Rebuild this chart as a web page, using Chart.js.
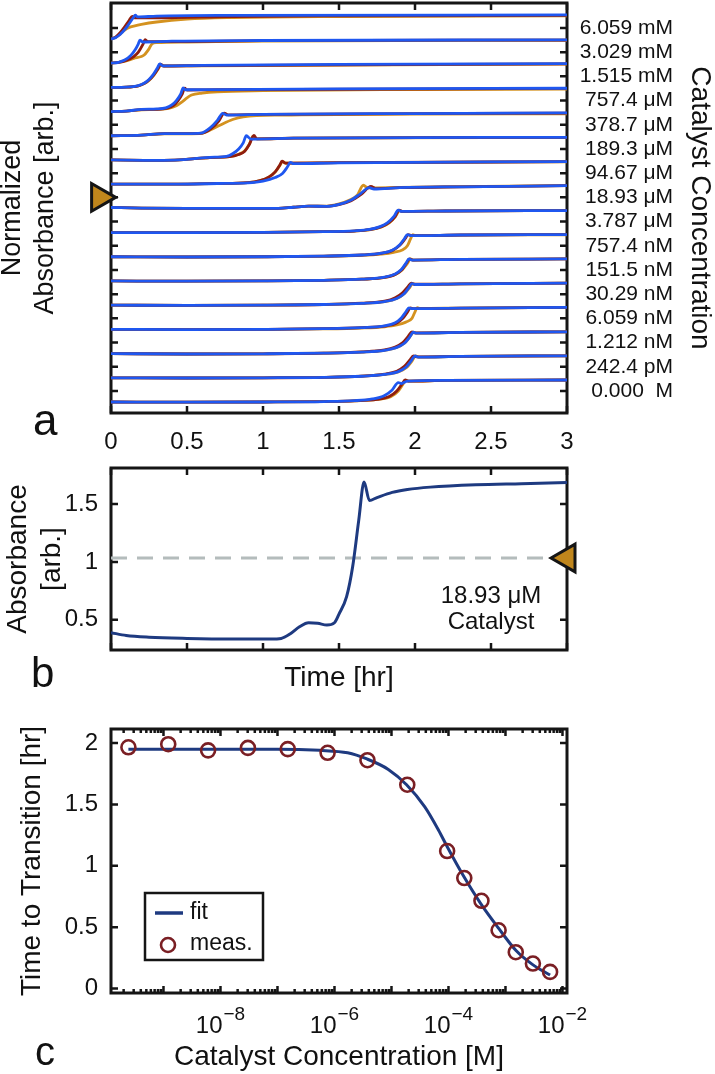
<!DOCTYPE html>
<html>
<head>
<meta charset="utf-8">
<title>Catalyst concentration study</title>
<script src="https://cdn.jsdelivr.net/npm/chart.js@4.4.1/dist/chart.umd.min.js"></script>
<style>
  html, body { margin:0; padding:0; background:#ffffff; }
  body { position:relative; width:715px; height:1074px; overflow:hidden; font-family:"Liberation Sans", Arial, sans-serif; color:#111; }
  canvas { position:absolute; left:0; display:block; }
  .txt { position:absolute; line-height:1; white-space:nowrap; color:#111; }
</style>
</head>
<body>
<canvas id="chartA" width="715" height="455" style="top:0px"></canvas>
<canvas id="chartB" width="715" height="250" style="top:455px"></canvas>
<canvas id="chartC" width="715" height="369" style="top:705px"></canvas>
<div class="txt" style="left:33px;top:398px;font-size:44px">a</div>
<div class="txt" style="left:31px;top:652px;font-size:42px">b</div>
<div class="txt" style="left:35px;top:1031px;font-size:40px">c</div>
<div class="txt" style="left:391px;top:582px;width:200px;text-align:center;font-size:24px;line-height:26px;">18.93 μM<br>Catalyst</div>
<script>
// ---------------- panel a data ----------------
const timeTicks = [0, 0.5, 1, 1.5, 2, 2.5, 3];
const concLabels = ['6.059 mM','3.029 mM','1.515 mM','757.4 μM','378.7 μM','189.3 μM','94.67 μM','18.93 μM',
                    '3.787 μM','757.4 nM','151.5 nM','30.29 nM','6.059 nM','1.212 nM','242.4 pM','0.000  M'];
const markedConc = '18.93 μM';
// normalized absorbance traces [time hr, normalized], listed top to bottom
const blueTraces = [
  [[0,0],[0.03,0.06],[0.06,0.2],[0.09,0.42],[0.12,0.7],[0.145,0.95],[0.16,1.08],[0.175,1.0],[0.3,1.04],[0.8,1.07],[3,1.09]],
  [[0,0],[0.05,0.04],[0.09,0.14],[0.13,0.35],[0.16,0.62],[0.18,0.88],[0.19,1.04],[0.21,0.96],[0.4,1.0],[1,1.03],[3,1.06]],
  [[0,0],[0.1,0.01],[0.18,0.08],[0.22,0.2],[0.25,0.36],[0.28,0.6],[0.305,0.88],[0.32,1.07],[0.34,0.98],[0.6,1.0],[1.5,1.04],[3,1.08]],
  [[0,0],[0.1,0.02],[0.2,0.1],[0.3,0.12],[0.36,0.17],[0.4,0.3],[0.43,0.5],[0.46,0.82],[0.475,1.08],[0.49,0.99],[0.7,1.0],[1.5,1.03],[3,1.06]],
  [[0,0],[0.2,0.03],[0.35,0.1],[0.5,0.1],[0.59,0.12],[0.65,0.35],[0.7,0.7],[0.735,1.02],[0.76,0.94],[1,0.97],[2,1.01],[3,1.04]],
  [[0,0],[0.3,-0.02],[0.45,0],[0.55,0.06],[0.65,0.12],[0.76,0.16],[0.8,0.28],[0.84,0.5],[0.87,0.78],[0.89,1.1],[0.92,0.95],[1.2,0.99],[3,1.03]],
  [[0,0],[0.4,0],[0.7,0.03],[0.9,0.06],[1.0,0.14],[1.08,0.3],[1.13,0.5],[1.16,0.78],[1.18,0.99],[1.2,0.93],[1.5,0.97],[3,1.02]],
  [[0,0.04],[0.2,0.01],[0.5,0],[1.1,0],[1.2,0.05],[1.3,0.1],[1.42,0.09],[1.5,0.18],[1.58,0.38],[1.64,0.66],[1.7,0.94],[1.73,0.88],[1.9,0.94],[2.3,0.98],[3,1.03]],
  [[0,0],[0.5,0],[1,0.01],[1.4,0.04],[1.6,0.08],[1.7,0.14],[1.77,0.27],[1.82,0.45],[1.86,0.72],[1.89,1.02],[1.91,0.96],[2.2,0.98],[3,1]],
  [[0,0],[0.5,-0.01],[1,0],[1.4,0.03],[1.65,0.08],[1.78,0.16],[1.85,0.3],[1.9,0.55],[1.93,0.82],[1.95,1.01],[1.97,0.96],[2.3,0.99],[3,1.01]],
  [[0,0],[0.5,-0.01],[1,0],[1.4,0.03],[1.65,0.08],[1.8,0.17],[1.87,0.32],[1.91,0.52],[1.94,0.8],[1.96,1.0],[1.98,0.95],[2.3,0.98],[3,1]],
  [[0,0],[0.5,-0.01],[1,0],[1.4,0.03],[1.65,0.08],[1.8,0.16],[1.88,0.3],[1.93,0.53],[1.96,0.8],[1.98,0.98],[2.0,0.94],[2.3,0.97],[3,1]],
  [[0,0],[0.5,-0.01],[1,0],[1.4,0.03],[1.65,0.08],[1.8,0.16],[1.87,0.3],[1.91,0.52],[1.94,0.8],[1.96,0.98],[1.98,0.94],[2.3,0.97],[3,1]],
  [[0,0],[0.5,-0.02],[1,-0.01],[1.4,0.02],[1.65,0.07],[1.8,0.15],[1.88,0.28],[1.93,0.47],[1.965,0.75],[1.99,0.97],[2.01,0.93],[2.3,0.96],[3,0.99]],
  [[0,0],[0.5,-0.01],[1,0],[1.4,0.02],[1.65,0.07],[1.8,0.15],[1.89,0.28],[1.94,0.48],[1.975,0.77],[2.0,0.99],[2.02,0.94],[2.3,0.97],[3,1]],
  [[0,0],[0.5,-0.01],[1,0],[1.4,0.02],[1.6,0.06],[1.72,0.14],[1.8,0.3],[1.85,0.55],[1.89,0.88],[1.91,0.84],[1.95,0.95],[2.2,0.98],[3,1]]
];
const redTraces = [
  [[0,0],[0.03,0.08],[0.06,0.28],[0.09,0.55],[0.12,0.85],[0.14,1.02],[0.155,0.96],[0.3,0.96],[0.8,1.02],[1.5,1.05],[3,1.07]],
  [[0,0],[0.05,0.03],[0.1,0.12],[0.15,0.3],[0.18,0.5],[0.21,0.85],[0.225,1.07],[0.24,0.98],[0.4,0.98],[1,1.02],[3,1.05]],
  [[0,0],[0.1,0.01],[0.18,0.07],[0.22,0.18],[0.25,0.33],[0.28,0.56],[0.31,0.86],[0.325,1.05],[0.345,0.97],[0.6,0.99],[3,1.07]],
  [[0,0],[0.1,0.02],[0.2,0.09],[0.3,0.1],[0.37,0.15],[0.41,0.27],[0.44,0.48],[0.47,0.82],[0.485,1.06],[0.5,0.98],[0.7,0.99],[3,1.05]],
  [[0,0],[0.2,0.03],[0.35,0.1],[0.5,0.1],[0.6,0.12],[0.66,0.33],[0.71,0.68],[0.745,1.03],[0.77,0.95],[1,0.97],[3,1.03]],
  [[0,0],[0.3,-0.02],[0.45,0],[0.55,0.06],[0.65,0.11],[0.78,0.15],[0.84,0.25],[0.88,0.4],[0.91,0.7],[0.94,1.12],[0.96,0.96],[1.2,0.99],[3,1.03]],
  [[0,0],[0.4,0],[0.7,0.03],[0.9,0.07],[0.98,0.16],[1.04,0.33],[1.08,0.56],[1.11,0.86],[1.125,1.05],[1.145,0.96],[1.5,0.98],[3,1.02]],
  [[0,0.04],[0.2,0.01],[0.5,0],[1.1,0],[1.2,0.05],[1.3,0.1],[1.42,0.09],[1.5,0.17],[1.58,0.35],[1.65,0.66],[1.71,1.0],[1.74,0.9],[1.9,0.94],[2.3,0.98],[3,1.03]],
  [[0,0],[0.5,0],[1,0.01],[1.4,0.04],[1.6,0.07],[1.7,0.13],[1.78,0.27],[1.83,0.46],[1.87,0.74],[1.895,1.02],[1.915,0.96],[2.2,0.98],[3,1]],
  [[0,0],[0.5,-0.01],[1,0],[1.4,0.03],[1.65,0.08],[1.78,0.16],[1.85,0.28],[1.9,0.52],[1.935,0.82],[1.955,1.01],[1.975,0.96],[2.3,0.99],[3,1.01]],
  [[0,0],[0.5,-0.01],[1,0],[1.4,0.03],[1.65,0.08],[1.8,0.16],[1.87,0.3],[1.915,0.52],[1.945,0.82],[1.965,1.0],[1.985,0.95],[2.3,0.98],[3,1]],
  [[0,0],[0.5,-0.01],[1,0],[1.4,0.03],[1.65,0.09],[1.8,0.18],[1.87,0.34],[1.92,0.58],[1.955,0.85],[1.975,1.0],[1.995,0.95],[2.3,0.97],[3,1]],
  [[0,0],[0.5,-0.01],[1,0],[1.4,0.03],[1.65,0.08],[1.8,0.15],[1.88,0.29],[1.92,0.5],[1.95,0.78],[1.97,0.98],[1.99,0.94],[2.3,0.97],[3,1]],
  [[0,0],[0.5,-0.02],[1,-0.01],[1.4,0.02],[1.65,0.08],[1.8,0.17],[1.87,0.3],[1.92,0.5],[1.955,0.78],[1.98,0.98],[2.0,0.94],[2.3,0.96],[3,0.99]],
  [[0,0],[0.5,-0.01],[1,0],[1.4,0.02],[1.65,0.08],[1.8,0.17],[1.88,0.3],[1.93,0.52],[1.965,0.8],[1.99,1.0],[2.01,0.95],[2.3,0.97],[3,1]],
  [[0,0],[0.5,-0.01],[1,0],[1.4,0.02],[1.6,0.05],[1.75,0.12],[1.83,0.25],[1.88,0.5],[1.915,0.82],[1.935,1.0],[1.955,0.95],[2.2,0.98],[3,1]]
];
const orangeTraces = [
  [[0,0],[0.03,0.07],[0.06,0.22],[0.09,0.4],[0.12,0.52],[0.15,0.58],[0.2,0.66],[0.3,0.77],[0.5,0.9],[0.8,0.97],[1.5,1.02],[3,1.05]],
  [[0,0],[0.05,0.03],[0.1,0.1],[0.15,0.22],[0.2,0.3],[0.22,0.38],[0.25,0.65],[0.27,0.88],[0.3,0.93],[0.5,0.96],[1,1.0],[3,1.04]],
  [[0,0],[0.1,0.01],[0.18,0.07],[0.22,0.17],[0.25,0.31],[0.28,0.53],[0.31,0.84],[0.33,1.03],[0.35,0.97],[0.6,0.98],[3,1.06]],
  [[0,0],[0.1,0.02],[0.2,0.08],[0.3,0.1],[0.38,0.14],[0.43,0.26],[0.47,0.45],[0.5,0.62],[0.53,0.75],[0.6,0.84],[0.7,0.9],[1,0.95],[2,1.0],[3,1.02]],
  [[0,0],[0.2,0.03],[0.35,0.09],[0.5,0.09],[0.6,0.11],[0.66,0.28],[0.72,0.49],[0.8,0.74],[0.87,0.86],[1.13,0.94],[2,0.98],[3,1.0]],
  [[0,0],[0.3,-0.02],[0.45,0],[0.55,0.06],[0.65,0.11],[0.78,0.15],[0.84,0.26],[0.88,0.42],[0.91,0.72],[0.935,1.08],[0.955,0.96],[1.2,0.99],[3,1.02]],
  [[0,0],[0.4,0],[0.7,0.03],[0.9,0.07],[0.98,0.16],[1.04,0.33],[1.08,0.55],[1.11,0.84],[1.13,1.02],[1.15,0.95],[1.5,0.98],[3,1.01]],
  [[0,0.04],[0.2,0.01],[0.5,0],[1.1,0],[1.2,0.05],[1.3,0.1],[1.42,0.1],[1.5,0.2],[1.57,0.38],[1.62,0.6],[1.66,1.05],[1.69,0.93],[1.9,0.95],[2.3,0.99],[3,1.03]],
  [[0,0],[0.5,0],[1,0.01],[1.4,0.04],[1.6,0.07],[1.7,0.12],[1.78,0.25],[1.83,0.44],[1.87,0.72],[1.9,1.0],[1.92,0.96],[2.2,0.98],[3,1]],
  [[0,0],[0.5,-0.01],[1,0],[1.4,0.02],[1.65,0.06],[1.78,0.12],[1.86,0.2],[1.92,0.32],[1.95,0.5],[1.97,0.8],[1.985,1.0],[2.0,0.97],[2.3,0.98],[3,1]],
  [[0,0],[0.5,-0.01],[1,0],[1.4,0.03],[1.65,0.08],[1.8,0.16],[1.87,0.29],[1.915,0.5],[1.95,0.8],[1.97,1.0],[1.99,0.95],[2.3,0.98],[3,1]],
  [[0,0],[0.5,-0.01],[1,0],[1.4,0.03],[1.65,0.08],[1.8,0.16],[1.88,0.3],[1.93,0.52],[1.965,0.8],[1.985,0.98],[2.005,0.94],[2.3,0.97],[3,1]],
  [[0,0],[0.5,-0.01],[1,0],[1.4,0.02],[1.65,0.06],[1.8,0.12],[1.88,0.2],[1.94,0.33],[1.98,0.5],[2.0,0.8],[2.015,0.99],[2.03,0.95],[2.3,0.97],[3,1]],
  [[0,0],[0.5,-0.02],[1,-0.01],[1.4,0.02],[1.65,0.07],[1.8,0.15],[1.88,0.28],[1.93,0.47],[1.965,0.75],[1.99,0.97],[2.01,0.93],[2.3,0.96],[3,0.99]],
  [[0,0],[0.5,-0.01],[1,0],[1.4,0.02],[1.65,0.07],[1.8,0.15],[1.89,0.27],[1.945,0.47],[1.98,0.76],[2.005,0.99],[2.025,0.94],[2.3,0.97],[3,1]],
  [[0,0],[0.5,-0.01],[1,0],[1.4,0.02],[1.6,0.05],[1.75,0.12],[1.84,0.24],[1.89,0.5],[1.92,0.8],[1.94,0.99],[1.96,0.95],[2.2,0.98],[3,1]]
];

// ---------------- panel b data ----------------
const bTime = [0,0.1,0.25,0.5,0.8,1.05,1.12,1.18,1.24,1.3,1.36,1.42,1.47,1.5,1.55,1.59,1.63,1.665,1.7,1.75,1.85,1.95,2.1,2.4,2.7,3.0];
const bAbs  = [0.39,0.365,0.35,0.34,0.335,0.335,0.34,0.38,0.44,0.475,0.47,0.455,0.475,0.55,0.70,0.96,1.36,1.69,1.53,1.555,1.6,1.625,1.645,1.665,1.675,1.685];
const bThreshold = 1.034;
const bTicks = [0.5, 1, 1.5];

// ---------------- panel c data ----------------
const measConc = [2.424e-10,1.212e-9,6.059e-9,3.029e-8,1.515e-7,7.574e-7,3.787e-6,1.893e-5,9.467e-5,1.893e-4,3.787e-4,7.574e-4,1.515e-3,3.029e-3,6.059e-3];
const measTime = [1.965,1.99,1.94,1.96,1.95,1.92,1.86,1.66,1.12,0.90,0.715,0.475,0.296,0.204,0.136];
const fitConc  = [2.424e-10,1e-8,1e-7,5.5e-7,1.7e-6,3.7e-6,8.8e-6,1.84e-5,3.84e-5,6.7e-5,9.5e-5,1.87e-4,3.7e-4,7.6e-4,1.53e-3,3.0e-3,6.06e-3];
const fitTime  = [1.95,1.95,1.95,1.94,1.92,1.87,1.785,1.66,1.48,1.29,1.155,0.91,0.69,0.49,0.31,0.195,0.11];
const cTicksY = [0, 0.5, 1, 1.5, 2];
const cLabelExps = [-8, -6, -4, -2];

// ---------------- styling ----------------
const FONT = "'Liberation Sans', Arial, Helvetica, sans-serif";
Chart.defaults.font.family = FONT;
Chart.defaults.color = '#111111';
Chart.defaults.animation = false;
const C_BLUE = '#1f57f0', C_RED = '#8f1d0e', C_ORANGE = '#d4921f';
const C_NAVY = '#1e3a80', C_MEAS = '#7a1f24', C_MARK = '#c0861c', C_AXIS = '#151515';
const BASE = -0.455, AMP = 0.909;

const boxPlugin = {
  id: 'box',
  beforeDatasetsDraw(chart, args, o) {
    const {ctx, chartArea: a, scales} = chart;
    const xs = scales.x, ys = scales.y;
    ctx.save();
    ctx.strokeStyle = C_AXIS;
    ctx.lineWidth = 2.5;
    ctx.beginPath();
    const xt = (v, len) => { const p = xs.getPixelForValue(v); ctx.moveTo(p, a.top); ctx.lineTo(p, a.top + len); ctx.moveTo(p, a.bottom); ctx.lineTo(p, a.bottom - len); };
    const yt = (v, len) => { const p = ys.getPixelForValue(v); ctx.moveTo(a.left, p); ctx.lineTo(a.left + len, p); ctx.moveTo(a.right, p); ctx.lineTo(a.right - len, p); };
    (o.xMajor || []).forEach(v => xt(v, 7));
    (o.xMinor || []).forEach(v => xt(v, 4));
    (o.yMajor || []).forEach(v => yt(v, 7));
    ctx.stroke();
    ctx.lineWidth = 3;
    ctx.strokeRect(a.left, a.top, a.right - a.left, a.bottom - a.top);
    ctx.restore();
  }
};

function lineDs(data, color, width, order, extra) {
  return Object.assign({ data, showLine: true, borderColor: color, backgroundColor: color, borderWidth: width,
    pointRadius: 0, pointHoverRadius: 0, cubicInterpolationMode: 'monotone', fill: false, order }, extra || {});
}

// ---------------- panel a ----------------
const nLevels = concLabels.length;
const levelOf = k => nLevels - 1 - k;
const toPts = (pts, k) => pts.map(([t, n]) => ({ x: t, y: levelOf(k) + BASE + AMP * n }));
const dsA = [];
orangeTraces.forEach((p, k) => dsA.push(lineDs(toPts(p, k), C_ORANGE, 2.8, 3)));
redTraces.forEach((p, k) => dsA.push(lineDs(toPts(p, k), C_RED, 2.8, 2)));
blueTraces.forEach((p, k) => dsA.push(lineDs(toPts(p, k), C_BLUE, 2.8, 1)));
dsA.push({ data: [{ x: -0.075, y: levelOf(concLabels.indexOf(markedConc)) }], showLine: false, pointStyle: 'triangle',
  rotation: 90, pointRadius: 16, pointHoverRadius: 16, pointBackgroundColor: C_MARK, pointBorderColor: C_AXIS,
  pointBorderWidth: 3, clip: false, order: 0 });

const mctx = document.createElement('canvas').getContext('2d');
mctx.font = "21px " + FONT;
const widestA = Math.max(...concLabels.map(s => mctx.measureText(s).width));
const levelTicks = concLabels.map((_, i) => i);

new Chart(document.getElementById('chartA'), {
  type: 'scatter',
  data: { datasets: dsA },
  plugins: [boxPlugin],
  options: {
    responsive: false, animation: false, events: [],
    layout: { autoPadding: false, padding: { left: 0, right: 42, top: 3, bottom: 0 } },
    plugins: { legend: { display: false }, tooltip: { enabled: false },
      box: { xMajor: timeTicks, yMajor: levelTicks } },
    scales: {
      x: { type: 'linear', min: 0, max: 3, position: 'bottom',
        grid: { display: false, drawTicks: false }, border: { display: false },
        ticks: { font: { size: 24 }, padding: 15, autoSkip: false, maxRotation: 0, minRotation: 0, callback: v => String(v) },
        afterBuildTicks: s => { s.ticks = timeTicks.map(v => ({ value: v })); },
        afterFit: s => { s.height = 42; s.paddingLeft = 0; s.paddingRight = 0; } },
      y: { type: 'linear', min: -0.91, max: 16.03, position: 'left',
        grid: { display: false, drawTicks: false }, border: { display: false },
        ticks: { display: false },
        title: { display: true, text: ['Normalized', 'Absorbance [arb.]'], font: { size: 27, lineHeight: '33px' }, padding: { top: -3.5, bottom: 0 } },
        afterFit: s => { s.width = 111; s.paddingTop = 0; s.paddingBottom = 0; } },
      y2: { type: 'linear', min: -0.91, max: 16.03, position: 'right',
        grid: { display: false, drawTicks: false }, border: { display: false },
        ticks: { font: { size: 21 }, padding: 106 - widestA, crossAlign: 'far', autoSkip: false,
          callback: v => concLabels[nLevels - 1 - v] || '' },
        afterBuildTicks: s => { s.ticks = levelTicks.map(v => ({ value: v })); },
        title: { display: true, text: 'Catalyst Concentration', font: { size: 28, lineHeight: 1 }, padding: { top: -41, bottom: 0 } },
        afterFit: s => { s.width = 106; s.paddingTop = 0; s.paddingBottom = 0; } }
    }
  }
});

// ---------------- panel b ----------------
new Chart(document.getElementById('chartB'), {
  type: 'scatter',
  data: { datasets: [
    { data: [{ x: 3, y: bThreshold }], showLine: false, pointStyle: 'triangle', rotation: 270, pointRadius: 16, pointHoverRadius: 16,
      pointBackgroundColor: C_MARK, pointBorderColor: C_AXIS, pointBorderWidth: 3, clip: false, order: 0 },
    lineDs(bTime.map((t, i) => ({ x: t, y: bAbs[i] })), C_NAVY, 3, 1),
    lineDs([{ x: 0, y: bThreshold }, { x: 3, y: bThreshold }], '#b4bcbc', 3, 2, { borderDash: [16, 10], cubicInterpolationMode: 'default' })
  ] },
  plugins: [boxPlugin],
  options: {
    responsive: false, animation: false, events: [],
    layout: { autoPadding: false, padding: { left: 0, right: 148, top: 13, bottom: 0 } },
    plugins: { legend: { display: false }, tooltip: { enabled: false },
      box: { xMajor: timeTicks, yMajor: bTicks } },
    scales: {
      x: { type: 'linear', min: 0, max: 3, position: 'bottom',
        grid: { display: false, drawTicks: false }, border: { display: false },
        ticks: { display: false },
        title: { display: true, text: 'Time [hr]', font: { size: 28 }, padding: { top: 0, bottom: 10 } },
        afterFit: s => { s.height = 55; s.paddingLeft = 0; s.paddingRight = 0; } },
      y: { type: 'linear', min: 0.24, max: 1.81, position: 'left',
        grid: { display: false, drawTicks: false }, border: { display: false },
        ticks: { font: { size: 24 }, padding: 13, autoSkip: false, callback: v => String(v) },
        afterBuildTicks: s => { s.ticks = bTicks.map(v => ({ value: v })); },
        title: { display: true, text: ['Absorbance', '[arb.]'], font: { size: 28, lineHeight: '34px' }, padding: { top: 1, bottom: 0 } },
        afterFit: s => { s.width = 111; s.paddingTop = 0; s.paddingBottom = 0; } }
    }
  }
});

// ---------------- panel c ----------------
const cMin = 1.2e-10, cMax = 1.2e-2;
const cMajor = [], cMinor = [];
for (let e = -10; e <= -2; e++) {
  for (let m = 1; m <= 9; m++) {
    const v = m * Math.pow(10, e);
    if (v < cMin || v > cMax) continue;
    (m === 1 ? cMajor : cMinor).push(v);
  }
}
const logLabels = {
  id: 'logLabels',
  afterDraw(chart) {
    const {ctx, chartArea: a, scales: {x}} = chart;
    ctx.save();
    ctx.fillStyle = '#111111';
    ctx.textBaseline = 'alphabetic';
    ctx.textAlign = 'left';
    cLabelExps.forEach(e => {
      const px = x.getPixelForValue(Math.pow(10, e));
      const base = '10', sup = '\u2212' + Math.abs(e);
      ctx.font = '24px ' + FONT; const wb = ctx.measureText(base).width;
      ctx.font = '19px ' + FONT; const ws = ctx.measureText(sup).width;
      const x0 = px - (wb + 1 + ws) / 2;
      ctx.font = '24px ' + FONT; ctx.fillText(base, x0, a.bottom + 40);
      ctx.font = '19px ' + FONT; ctx.fillText(sup, x0 + wb + 1, a.bottom + 27);
    });
    ctx.restore();
  }
};
const legendBox = {
  id: 'legendBox',
  afterDatasetsDraw(chart) {
    const {ctx, chartArea: a} = chart;
    const fit = chart.data.datasets[1], meas = chart.data.datasets[0];
    const x0 = a.left + 34, y0 = a.top + 164, w = 118, h = 67;
    ctx.save();
    ctx.fillStyle = '#ffffff';
    ctx.fillRect(x0, y0, w, h);
    ctx.strokeStyle = C_AXIS; ctx.lineWidth = 2.5;
    ctx.strokeRect(x0, y0, w, h);
    ctx.strokeStyle = fit.borderColor; ctx.lineWidth = 3.5;
    ctx.beginPath(); ctx.moveTo(x0 + 10, y0 + 20); ctx.lineTo(x0 + 38, y0 + 20); ctx.stroke();
    ctx.strokeStyle = meas.pointBorderColor; ctx.lineWidth = 2.6;
    ctx.beginPath(); ctx.arc(x0 + 23, y0 + 52, 7, 0, Math.PI * 2); ctx.stroke();
    ctx.fillStyle = '#111111'; ctx.font = '23px ' + FONT; ctx.textBaseline = 'middle'; ctx.textAlign = 'left';
    ctx.fillText(fit.label, x0 + 45, y0 + 20);
    ctx.fillText(meas.label, x0 + 45, y0 + 51);
    ctx.restore();
  }
};

new Chart(document.getElementById('chartC'), {
  type: 'scatter',
  data: { datasets: [
    { label: 'meas.', data: measConc.map((c, i) => ({ x: c, y: measTime[i] })), showLine: false, pointStyle: 'circle',
      pointRadius: 7, pointHoverRadius: 7, pointBorderWidth: 2.6, pointBorderColor: C_MEAS, pointBackgroundColor: 'rgba(0,0,0,0)', order: 0 },
    lineDs(fitConc.map((c, i) => ({ x: c, y: fitTime[i] })), C_NAVY, 3, 1, { label: 'fit' })
  ] },
  plugins: [boxPlugin, logLabels, legendBox],
  options: {
    responsive: false, animation: false, events: [],
    layout: { autoPadding: false, padding: { left: 0, right: 148, top: 24, bottom: 0 } },
    plugins: { legend: { display: false }, tooltip: { enabled: false },
      box: { xMajor: cMajor, xMinor: cMinor, yMajor: cTicksY } },
    scales: {
      x: { type: 'logarithmic', min: cMin, max: cMax, position: 'bottom',
        grid: { display: false, drawTicks: false }, border: { display: false },
        ticks: { display: false },
        title: { display: true, text: 'Catalyst Concentration [M]', font: { size: 28 }, padding: { top: 0, bottom: 0 } },
        afterFit: s => { s.height = 81; s.paddingLeft = 0; s.paddingRight = 0; } },
      y: { type: 'linear', min: -0.036, max: 2.114, position: 'left',
        grid: { display: false, drawTicks: false }, border: { display: false },
        ticks: { font: { size: 24 }, padding: 13, autoSkip: false, callback: v => String(v) },
        afterBuildTicks: s => { s.ticks = cTicksY.map(v => ({ value: v })); },
        title: { display: true, text: 'Time to Transition [hr]', font: { size: 28 }, padding: { top: 15, bottom: 0 } },
        afterFit: s => { s.width = 111; s.paddingTop = 0; s.paddingBottom = 0; } }
    }
  }
});
</script>
</body>
</html>
